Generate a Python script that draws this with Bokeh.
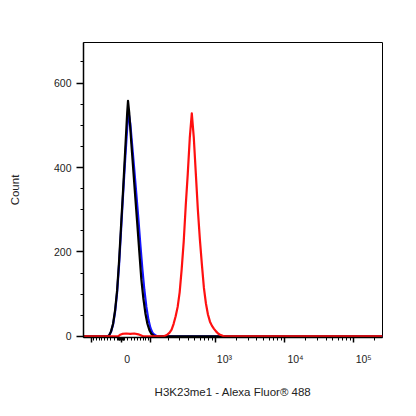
import numpy as np
from bokeh.plotting import figure
from bokeh.models import Range1d, FixedTicker, LinearAxis
from bokeh.embed import file_html
from bokeh.resources import INLINE

# ---- biexponential (arcsinh) display transform of the fluorescence axis ----
A, C = 29.75, 87.0
def biex(v):
    return A * np.arcsinh(np.asarray(v, dtype=float) / C)

x_limits = [-140, 262144]

# x ticks (raw fluorescence values) and labels
x_major_values = [-100, 0, 100, 1000, 10000, 100000]
x_label_values = [0, 1000, 10000, 100000]
x_label_texts = ["0", "10³", "10⁴", "10⁵"]
x_minor_values = (list(range(-100, 101, 10)) + list(range(-8, 9, 2))
                  + list(range(200, 1000, 100)) + list(range(2000, 10000, 1000))
                  + list(range(20000, 100000, 10000)) + [200000])

# y ticks
y_major_values = [0, 200, 400, 600]
y_minor_values = list(range(50, 700, 50))
y_limits = [-2.5, 696]

# ---- histogram series (x in display units, y = count) ----
blue_x = [-14, -12, -10, -8, -6, -4, -2, 0, 2, 4, 6, 7.6, 9, 11, 13, 15, 17, 19, 21, 23, 25, 27, 29, 31, 33, 35, 37]
blue_y = [0, 2, 11, 28, 58, 104, 172, 255, 340, 420, 495, 526, 505, 450, 395, 338, 280, 218, 160, 110, 70, 40, 20, 9, 4, 1, 0]

black_x = [-14, -12, -10, -8, -6, -4, -2, 0, 2, 4, 6, 6.8, 8, 10, 12, 14, 16, 18, 20, 22, 24, 26, 28, 30, 32, 34]
black_y = [0, 2, 12, 30, 62, 109, 180, 266, 350, 440, 530, 558, 530, 460, 395, 330, 266, 200, 135, 90, 55, 30, 15, 6, 2, 0]

red_x = [-3, -1, 1, 5, 9, 13, 17, 20, 22, 42, 44, 46, 48, 50, 52, 54, 56, 58, 60, 62, 64, 66, 68, 70,
         72, 74, 76, 78, 80, 82, 84, 86, 88, 90, 92, 94, 96, 98, 100, 102]
red_y = [0, 4, 6, 7, 6, 7, 5, 2, 0, 0, 2, 5, 9, 16, 30, 48, 70, 105, 160, 225, 310, 385, 470, 528,
         470, 385, 300, 230, 170, 115, 78, 52, 35, 25, 18, 12, 7, 4, 2, 0]

x_lo, x_hi = [float(v) for v in biex(x_limits)]

p = figure(width=408, height=408, output_backend="svg", toolbar_location=None,
           x_range=Range1d(x_lo, x_hi), y_range=Range1d(*y_limits),
           min_border_left=83, min_border_right=26, min_border_top=42, min_border_bottom=71)
p.grid.visible = False
p.outline_line_color = "black"
p.outline_line_width = 1
p.background_fill_color = "white"
p.border_fill_color = "white"

def series(xs, ys):
    return [x_lo] + list(xs) + [x_hi], [0] + list(ys) + [0]

for xs, ys, col in [(blue_x, blue_y, "#1414ff"), (black_x, black_y, "#000000"), (red_x, red_y, "#ff1010")]:
    sx, sy = series(xs, ys)
    p.line(sx, sy, line_color=col, line_width=2.2, line_join="round")

# x axis: tick marks only
tick_axis = p.xaxis[0]
xt = [float(v) for v in biex(x_major_values)]
tick_axis.ticker = FixedTicker(ticks=xt, minor_ticks=[float(v) for v in biex(x_minor_values)])
tick_axis.major_label_overrides = {t: "" for t in xt}
tick_axis.major_label_standoff = 0
tick_axis.axis_line_color = "black"
tick_axis.axis_line_width = 1.5
tick_axis.major_tick_line_color = "black"
tick_axis.minor_tick_line_color = "black"
tick_axis.major_tick_line_width = 1.5
tick_axis.minor_tick_line_width = 1
tick_axis.major_tick_in = 0
tick_axis.minor_tick_in = 0
tick_axis.major_tick_out = 5
tick_axis.minor_tick_out = 3

# x axis labels: drawn left-aligned beside their ticks, as in the original export
label_shift = [6, 9, 11, 10]
xl = [float(v) + s for v, s in zip(biex(x_label_values), label_shift)]
label_axis = LinearAxis(ticker=FixedTicker(ticks=xl, minor_ticks=[]),
                        major_label_overrides={t: l for t, l in zip(xl, x_label_texts)},
                        axis_line_color=None, major_tick_line_color=None, minor_tick_line_color=None,
                        major_tick_in=0, major_tick_out=0, minor_tick_in=0, minor_tick_out=0,
                        major_label_standoff=10,
                        axis_label="H3K23me1 - Alexa Fluor® 488", axis_label_standoff=18)
p.add_layout(label_axis, "below")

# y axis
p.yaxis.ticker = FixedTicker(ticks=y_major_values, minor_ticks=y_minor_values)
p.yaxis.axis_label = "Count"
ya = p.yaxis[0]
ya.axis_line_color = "black"
ya.axis_line_width = 1.5
ya.major_tick_line_color = "black"
ya.minor_tick_line_color = "black"
ya.major_tick_line_width = 1.5
ya.minor_tick_line_width = 1
ya.major_tick_in = 0
ya.minor_tick_in = 0
ya.major_tick_out = 7
ya.minor_tick_out = 3
ya.major_label_standoff = 5
ya.axis_label_standoff = 30

for ax in (label_axis, ya, tick_axis):
    ax.major_label_text_font = "Liberation Sans"
    ax.major_label_text_font_size = "10.5px"
    ax.major_label_text_color = "#222222"
    ax.axis_label_text_font = "Liberation Sans"
    ax.axis_label_text_font_size = "11.5px"
    ax.axis_label_text_font_style = "normal"
    ax.axis_label_text_color = "#222222"

open("out.html", "w").write(file_html(p, INLINE))
